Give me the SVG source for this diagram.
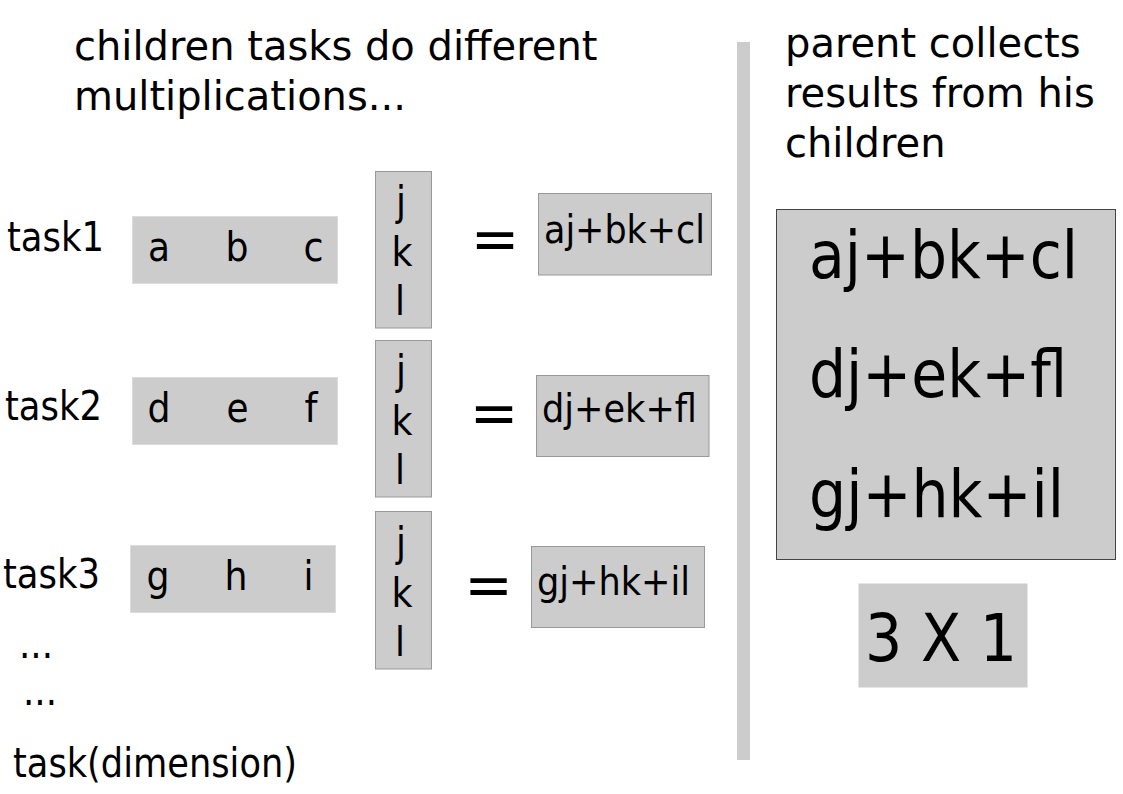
<svg xmlns="http://www.w3.org/2000/svg" width="1123" height="794" viewBox="0 0 1123 794">
<style>
text{font-family:"DejaVu Sans","Liberation Sans",sans-serif;fill:#000}
.t40{font-size:40px}
.mid{text-anchor:middle}
.big{font-size:65px}
.vec{fill:#cccccc;stroke:#dcdcdc;stroke-width:1}
.col{fill:#cccccc;stroke:#999999;stroke-width:1}
.res{fill:#cccccc;stroke:#999999;stroke-width:1}
.eq{font-size:58px;text-anchor:middle}
</style>
<rect width="1123" height="794" fill="#ffffff"/>
<g id="title-left">
<text class="t40" x="74" y="60">children tasks do different</text>
<text class="t40" x="74" y="110">multiplications...</text>
</g>
<g id="divider"><rect x="737" y="42" width="13" height="718" fill="#cccccc"/></g>
<g id="title-right">
<text class="t40" x="785" y="57">parent collects</text>
<text class="t40" x="785" y="107">results from his</text>
<text class="t40" x="785" y="157">children</text>
</g>
<g id="row1">
<text class="t40" x="7" y="251" textLength="97" lengthAdjust="spacingAndGlyphs">task1</text>
<rect class="vec" x="132.5" y="216.5" width="205" height="67"/>
<text class="t40 mid" x="159" y="261" textLength="22" lengthAdjust="spacingAndGlyphs">a</text>
<text class="t40 mid" x="237" y="261" textLength="23" lengthAdjust="spacingAndGlyphs">b</text>
<text class="t40 mid" x="313.5" y="261" textLength="20" lengthAdjust="spacingAndGlyphs">c</text>
<rect class="col" x="375.5" y="171.5" width="56" height="156.5"/>
<text class="t40 mid" x="401" y="215" textLength="10" lengthAdjust="spacingAndGlyphs">j</text>
<text class="t40 mid" x="402" y="266" textLength="21" lengthAdjust="spacingAndGlyphs">k</text>
<text class="t40 mid" x="400" y="315" textLength="10" lengthAdjust="spacingAndGlyphs">l</text>
<text class="eq" x="495" y="259">=</text>
<rect class="res" x="538.5" y="193.5" width="173" height="81.5"/>
<text x="544" y="243" font-size="39" textLength="161" lengthAdjust="spacingAndGlyphs">aj+bk+cl</text>
</g>
<g id="row2">
<text class="t40" x="5" y="420" textLength="97" lengthAdjust="spacingAndGlyphs">task2</text>
<rect class="vec" x="132.5" y="377.5" width="205" height="67"/>
<text class="t40 mid" x="159" y="422" textLength="23" lengthAdjust="spacingAndGlyphs">d</text>
<text class="t40 mid" x="237.5" y="422" textLength="22" lengthAdjust="spacingAndGlyphs">e</text>
<text class="t40 mid" x="311" y="422" textLength="13" lengthAdjust="spacingAndGlyphs">f</text>
<rect class="col" x="375.5" y="340.5" width="56" height="156.5"/>
<text class="t40 mid" x="401" y="384" textLength="10" lengthAdjust="spacingAndGlyphs">j</text>
<text class="t40 mid" x="402" y="435" textLength="21" lengthAdjust="spacingAndGlyphs">k</text>
<text class="t40 mid" x="400" y="484" textLength="10" lengthAdjust="spacingAndGlyphs">l</text>
<text class="eq" x="494" y="433">=</text>
<rect class="res" x="536.5" y="375.5" width="172.5" height="81"/>
<text x="542" y="422" font-size="39" textLength="155" lengthAdjust="spacingAndGlyphs">dj+ek+fl</text>
</g>
<g id="row3">
<text class="t40" x="3" y="588" textLength="97" lengthAdjust="spacingAndGlyphs">task3</text>
<rect class="vec" x="130.5" y="545.5" width="205" height="67"/>
<text class="t40 mid" x="158" y="590" textLength="23" lengthAdjust="spacingAndGlyphs">g</text>
<text class="t40 mid" x="236" y="590" textLength="23" lengthAdjust="spacingAndGlyphs">h</text>
<text class="t40 mid" x="308.5" y="590" textLength="10" lengthAdjust="spacingAndGlyphs">i</text>
<rect class="col" x="375.5" y="511.5" width="56" height="157.5"/>
<text class="t40 mid" x="401" y="556" textLength="10" lengthAdjust="spacingAndGlyphs">j</text>
<text class="t40 mid" x="402" y="607" textLength="21" lengthAdjust="spacingAndGlyphs">k</text>
<text class="t40 mid" x="400" y="656" textLength="10" lengthAdjust="spacingAndGlyphs">l</text>
<text class="eq" x="488.5" y="605">=</text>
<rect class="res" x="531.5" y="546.5" width="173" height="81"/>
<text x="537" y="595" font-size="39" textLength="153" lengthAdjust="spacingAndGlyphs">gj+hk+il</text>
</g>
<g id="more">
<text class="t40" x="19" y="658" textLength="34" lengthAdjust="spacingAndGlyphs">...</text>
<text class="t40" x="23" y="705" textLength="34" lengthAdjust="spacingAndGlyphs">...</text>
<text class="t40" x="13" y="777" textLength="284" lengthAdjust="spacingAndGlyphs">task(dimension)</text>
</g>
<g id="result-matrix">
<rect x="776.5" y="209.5" width="339" height="350" fill="#cccccc" stroke="#444444" stroke-width="1"/>
<text class="big" x="809" y="278" textLength="269" lengthAdjust="spacingAndGlyphs">aj+bk+cl</text>
<text class="big" x="809" y="397" textLength="258" lengthAdjust="spacingAndGlyphs">dj+ek+fl</text>
<text class="big" x="809" y="517" textLength="255" lengthAdjust="spacingAndGlyphs">gj+hk+il</text>
</g>
<g id="dimension">
<rect x="858.5" y="583.5" width="169" height="104" fill="#cccccc"/>
<text class="big" x="865" y="661" textLength="152" lengthAdjust="spacingAndGlyphs">3 X 1</text>
</g>
</svg>
